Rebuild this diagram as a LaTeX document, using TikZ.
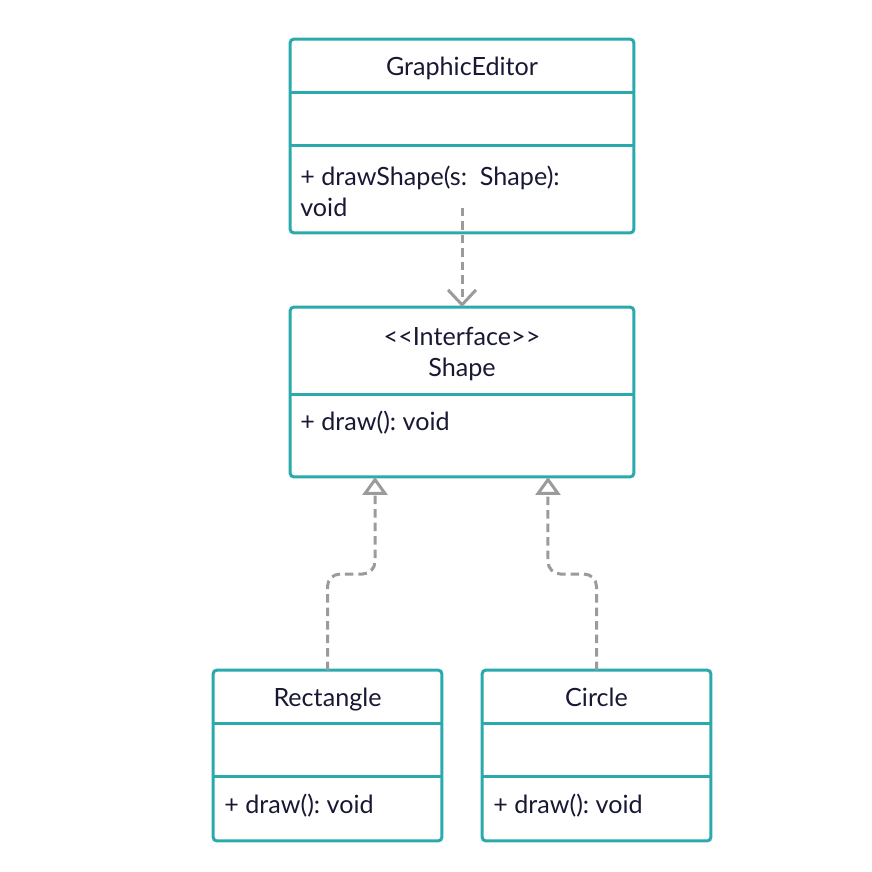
\documentclass[tikz,border=0pt]{standalone}
\usepackage{fontspec}
\setmainfont{Lato}
\frenchspacing
\usetikzlibrary{calc,arrows.meta}
\definecolor{umlteal}{RGB}{42,170,172}
\definecolor{umlink}{RGB}{24,24,52}
\definecolor{umlgray}{RGB}{155,155,155}
\tikzstyle{classbox} = [rectangle, draw=umlteal, line width=0.06cm, rounded corners=0.08cm, minimum width=6.88cm, inner sep=0pt, outer sep=0pt]
\tikzstyle{smallbox} = [classbox, minimum width=4.58cm, minimum height=3.42cm]
\tikzstyle{divider} = [draw=umlteal, line width=0.06cm]
\tikzstyle{title} = [text=umlink, font=\fontsize{14.3}{17.6}\selectfont, align=center, anchor=base, inner sep=0pt]
\tikzstyle{member} = [text=umlink, font=\fontsize{14.3}{17.6}\selectfont, align=left, anchor=base west, inner sep=0pt]
\tikzstyle{depend} = [draw=umlgray, line width=0.06cm, dash pattern=on 0.17cm off 0.1cm, -{Straight Barb[length=0.3cm,width=0.56cm]}]
\tikzstyle{realize} = [draw=umlgray, line width=0.06cm, dash pattern=on 0.17cm off 0.1cm, rounded corners=0.25cm, -{Triangle[open,fill=white,length=0.36cm,width=0.5cm]}]

\begin{document}
\begin{tikzpicture}[x=0.02cm, y=-0.02cm]
        \useasboundingbox (0,0) rectangle (872,872);
        \node (editor) [classbox, minimum height=3.88cm] at (462,136) {};
        \node (editor-name) [title] at (462,75) {GraphicEditor};
        \node (editor-ops) [member] at (300,216) {+ drawShape(s:\ \ Shape):\\void};
        \node (shape) [classbox, minimum height=3.4cm] at (462,392) {};
        \node (shape-name) [title] at (462,376) {<\kern0pt<\kern0pt Interface>\kern0pt>\\Shape};
        \node (shape-ops) [member] at (300,430) {+ draw(): void};
        \node (rect) [smallbox] at (327.5,755.5) {};
        \node (rect-name) [title] at (327.5,706) {Rectangle};
        \node (rect-ops) [member] at (224,813) {+ draw(): void};
        \node (circle) [smallbox] at (596.5,755.5) {};
        \node (circle-name) [title] at (596.5,706) {Circle};
        \node (circle-ops) [member] at (493,813) {+ draw(): void};
        % compartments
        \draw [divider] ($(editor.north west)+(0,53)$) -- ($(editor.north east)+(0,53)$);
        \draw [divider] ($(editor.north west)+(0,106)$) -- ($(editor.north east)+(0,106)$);
        \draw [divider] ($(shape.north west)+(0,87)$) -- ($(shape.north east)+(0,87)$);
        \draw [divider] ($(rect.north west)+(0,53)$) -- ($(rect.north east)+(0,53)$);
        \draw [divider] ($(rect.north west)+(0,106)$) -- ($(rect.north east)+(0,106)$);
        \draw [divider] ($(circle.north west)+(0,53)$) -- ($(circle.north east)+(0,53)$);
        \draw [divider] ($(circle.north west)+(0,106)$) -- ($(circle.north east)+(0,106)$);
        % relations
        \draw [depend] ([yshift=0.5cm]editor.south) -- (shape.north);
        \draw [realize] (rect.north) -- ++(0,-96) -| ([xshift=-1.74cm]shape.south);
        \draw [realize] (circle.north) -- ++(0,-96) -| ([xshift=1.72cm]shape.south);
    \end{tikzpicture}
\end{document}
